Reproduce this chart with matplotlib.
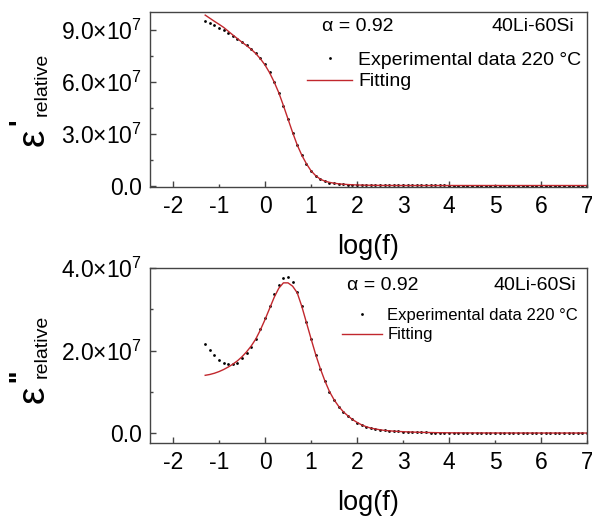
import matplotlib
matplotlib.use("Agg")
import matplotlib.pyplot as plt
from matplotlib.ticker import FixedLocator, FuncFormatter, FormatStrFormatter

plt.rcParams.update({
    "font.family": ["Liberation Sans", "DejaVu Sans"],
    "mathtext.fontset": "custom",
    "mathtext.rm": "Liberation Sans",
    "mathtext.it": "Liberation Sans:italic",
    "mathtext.bf": "Liberation Sans:bold",
    "axes.unicode_minus": False,
})

# log10 of frequency, one point every 0.1 decade from -1.3 to 7.0
log_f = [-1.3, -1.2, -1.1, -1.0, -0.9, -0.8, -0.7, -0.6, -0.5, -0.4,
         -0.3, -0.2, -0.1, 0.0, 0.1, 0.2, 0.3, 0.4, 0.5, 0.6,
         0.7, 0.8, 0.9, 1.0, 1.1, 1.2, 1.3, 1.4, 1.5, 1.6,
         1.7, 1.8, 1.9, 2.0, 2.1, 2.2, 2.3, 2.4, 2.5, 2.6,
         2.7, 2.8, 2.9, 3.0, 3.1, 3.2, 3.3, 3.4, 3.5, 3.6,
         3.7, 3.8, 3.9, 4.0, 4.1, 4.2, 4.3, 4.4, 4.5, 4.6,
         4.7, 4.8, 4.9, 5.0, 5.1, 5.2, 5.3, 5.4, 5.5, 5.6,
         5.7, 5.8, 5.9, 6.0, 6.1, 6.2, 6.3, 6.4, 6.5, 6.6,
         6.7, 6.8, 6.9, 7.0]

# real part (units of 1e7)
eps_real_exp = [9.55, 9.43, 9.29, 9.16, 9.00, 8.84, 8.69, 8.51, 8.31, 8.13,
                7.92, 7.66, 7.37, 7.02, 6.57, 6.02, 5.39, 4.63, 3.84, 3.06,
                2.33, 1.75, 1.25, 0.84, 0.57, 0.37, 0.25, 0.18, 0.14, 0.10,
                0.080, 0.060, 0.045, 0.035, 0.028, 0.023, 0.019, 0.016, 0.014, 0.012,
                0.011, 0.010, 0.0095, 0.0090, 0.0086, 0.0083, 0.0080, 0.0078, 0.0076, 0.0074,
                0.0072, 0.0071, 0.0070, 0.0069, 0.0068, 0.0067, 0.0066, 0.0066, 0.0065, 0.0065,
                0.0064, 0.0064, 0.0063, 0.0063, 0.0063, 0.0062, 0.0062, 0.0062, 0.0062, 0.0061,
                0.0061, 0.0061, 0.0061, 0.0061, 0.0060, 0.0060, 0.0060, 0.0060, 0.0060, 0.0060,
                0.0060, 0.0060, 0.0060, 0.0060]
eps_real_fit = [9.88, 9.70, 9.52, 9.35, 9.17, 8.95, 8.73, 8.52, 8.31, 8.11,
                7.90, 7.65, 7.35, 6.99, 6.54, 6.00, 5.38, 4.64, 3.86, 3.08,
                2.36, 1.76, 1.27, 0.86, 0.58, 0.38, 0.26, 0.19, 0.14, 0.105,
                0.080, 0.062, 0.048, 0.038, 0.030, 0.024, 0.020, 0.017, 0.014, 0.012,
                0.011, 0.010, 0.0095, 0.0090, 0.0086, 0.0083, 0.0080, 0.0078, 0.0076, 0.0074,
                0.0072, 0.0071, 0.0070, 0.0069, 0.0068, 0.0067, 0.0066, 0.0066, 0.0065, 0.0065,
                0.0064, 0.0064, 0.0063, 0.0063, 0.0063, 0.0062, 0.0062, 0.0062, 0.0062, 0.0061,
                0.0061, 0.0061, 0.0061, 0.0061, 0.0060, 0.0060, 0.0060, 0.0060, 0.0060, 0.0060,
                0.0060, 0.0060, 0.0060, 0.0060]

# imaginary part (units of 1e7)
eps_imag_exp = [2.16, 2.02, 1.89, 1.77, 1.71, 1.68, 1.68, 1.71, 1.81, 1.93,
                2.08, 2.29, 2.53, 2.78, 3.07, 3.36, 3.60, 3.76, 3.77, 3.67,
                3.41, 3.07, 2.68, 2.27, 1.90, 1.56, 1.26, 1.00, 0.80, 0.64,
                0.51, 0.41, 0.33, 0.25, 0.19, 0.15, 0.12, 0.10, 0.080, 0.065,
                0.055, 0.047, 0.040, 0.034, 0.029, 0.025, 0.021, 0.018, 0.015, 0.013,
                0.011, 0.009, 0.008, 0.007, 0.006, 0.0055, 0.005, 0.0045, 0.004, 0.0038,
                0.0035, 0.0033, 0.0031, 0.0029, 0.0027, 0.0026, 0.0025, 0.0024, 0.0023, 0.0022,
                0.0021, 0.0020, 0.0020, 0.0019, 0.0019, 0.0018, 0.0018, 0.0017, 0.0017, 0.0016,
                0.0016, 0.0016, 0.0015, 0.0015]
eps_imag_fit = [1.40, 1.42, 1.45, 1.49, 1.54, 1.60, 1.67, 1.75, 1.85, 1.97,
                2.11, 2.28, 2.50, 2.75, 3.02, 3.29, 3.51, 3.64, 3.64, 3.56,
                3.40, 3.07, 2.68, 2.29, 1.91, 1.57, 1.27, 1.01, 0.81, 0.65,
                0.52, 0.42, 0.33, 0.26, 0.20, 0.155, 0.12, 0.10, 0.080, 0.065,
                0.055, 0.047, 0.040, 0.034, 0.029, 0.025, 0.021, 0.018, 0.015, 0.013,
                0.011, 0.009, 0.008, 0.007, 0.006, 0.0055, 0.005, 0.0045, 0.004, 0.0038,
                0.0035, 0.0033, 0.0031, 0.0029, 0.0027, 0.0026, 0.0025, 0.0024, 0.0023, 0.0022,
                0.0021, 0.0020, 0.0020, 0.0019, 0.0019, 0.0018, 0.0018, 0.0017, 0.0017, 0.0016,
                0.0016, 0.0016, 0.0015, 0.0015]

scale = 1e7
fit_color = "#c1272d"
spine_color = "#444444"
W, H = 592, 518


def sci_label(v, pos):
    if abs(v) < 1:
        return "0.0"
    return f"{v / scale:.1f}×10$^{{7}}$"


def style_axis(ax, yticks, yminor, ylim):
    ax.set_xlim(-2.5, 7.0)
    ax.set_ylim(*ylim)
    ax.xaxis.set_major_locator(FixedLocator([-2, 0, 2, 4, 6]))
    ax.xaxis.set_minor_locator(FixedLocator([-1, 1, 3, 5, 7]))
    ax.xaxis.set_major_formatter(FormatStrFormatter("%d"))
    ax.xaxis.set_minor_formatter(FormatStrFormatter("%d"))
    ax.yaxis.set_major_locator(FixedLocator(yticks))
    ax.yaxis.set_minor_locator(FixedLocator(yminor))
    ax.yaxis.set_major_formatter(FuncFormatter(sci_label))
    ax.tick_params(which="both", direction="in", labelsize=16.5,
                   color=spine_color, width=1.0)
    ax.tick_params(which="major", length=4.5)
    ax.tick_params(which="minor", length=2.5)
    ax.tick_params(axis="x", which="both", pad=6)
    ax.tick_params(axis="y", which="both", pad=6)
    for s in ax.spines.values():
        s.set_color(spine_color)
        s.set_linewidth(1.0)
    ax.set_xlabel("log(f)", fontsize=19.5, labelpad=11)


def eps_label(fig, primes, y_eps, y_sub, y_prime):
    # rotated epsilon with primes and a smaller "relative" subscript
    kw = dict(rotation=90, rotation_mode="anchor", va="baseline")
    fig.text(44 / W, 1 - y_eps / H, "ε", fontsize=28, ha="center", **kw)
    fig.text(47 / W, 1 - y_sub / H, "relative", fontsize=14, ha="left", **kw)
    fig.text(27 / W, 1 - y_prime / H, primes, fontsize=20, fontweight="bold",
             ha="center", **kw)


fig = plt.figure(figsize=(W / 100, H / 100), dpi=100)
ax1 = fig.add_axes([150 / W, 1 - 187 / H, 437 / W, 175 / H])
ax2 = fig.add_axes([150 / W, 1 - 443 / H, 437 / W, 175 / H])

# real permittivity
ax1.plot(log_f, [v * scale for v in eps_real_exp], "o", color="black",
         markersize=2.0, markeredgewidth=0, label="Experimental data 220 °C")
ax1.plot(log_f, [v * scale for v in eps_real_fit], "-", color=fit_color,
         linewidth=1.0, label="Fitting")
style_axis(ax1, [0, 3e7, 6e7, 9e7], [1.5e7, 4.5e7, 7.5e7], (-0.08e7, 10.06e7))
eps_label(fig, "'", 137, 116, 122)
ax1.text(0.393, 0.915, "α = 0.92", transform=ax1.transAxes, fontsize=14,
         va="center", ha="left")
ax1.text(0.97, 0.915, "40Li-60Si", transform=ax1.transAxes, fontsize=14,
         va="center", ha="right")
ax1.legend(loc="upper left", bbox_to_anchor=(0.36, 0.775), frameon=False,
           fontsize=14, handlelength=2.3, handletextpad=0.3, borderpad=0,
           labelspacing=0.2, borderaxespad=0)

# imaginary permittivity
ax2.plot(log_f, [v * scale for v in eps_imag_exp], "o", color="black",
         markersize=2.0, markeredgewidth=0, label="Experimental data 220 °C")
ax2.plot(log_f, [v * scale for v in eps_imag_fit], "-", color=fit_color,
         linewidth=1.0, label="Fitting")
style_axis(ax2, [0, 2e7, 4e7], [1e7, 3e7], (-0.24e7, 4.0e7))
eps_label(fig, "''", 394, 378, 375)
ax2.text(0.451, 0.90, "α = 0.92", transform=ax2.transAxes, fontsize=14,
         va="center", ha="left")
ax2.text(0.975, 0.90, "40Li-60Si", transform=ax2.transAxes, fontsize=14,
         va="center", ha="right")
ax2.legend(loc="upper left", bbox_to_anchor=(0.44, 0.77), frameon=False,
           fontsize=12, handlelength=2.4, handletextpad=0.3, borderpad=0,
           labelspacing=0.25, borderaxespad=0)

fig.savefig("out.png", dpi=100)
